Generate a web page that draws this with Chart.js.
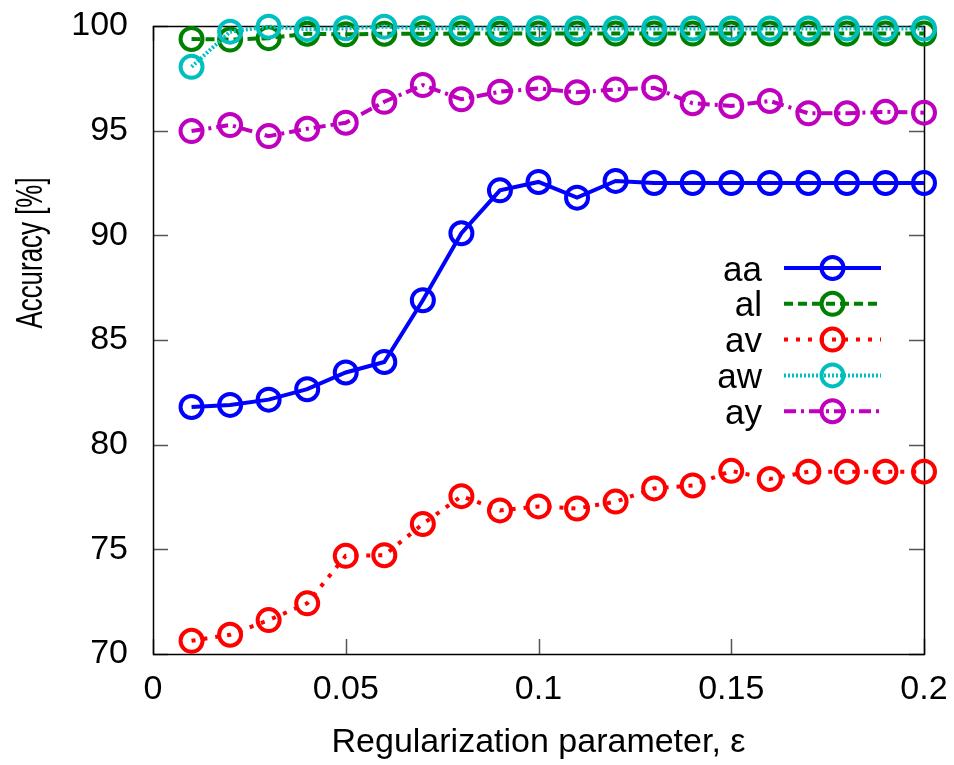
<!DOCTYPE html>
<html>
<head>
<meta charset="utf-8">
<script src="https://cdn.jsdelivr.net/npm/chart.js@4/dist/chart.umd.min.js"></script>
<style>
  html, body { margin: 0; padding: 0; background: #ffffff; }
  #wrap { width: 954px; height: 765px; position: relative; }
</style>
</head>
<body>
<div id="wrap"><canvas id="c" width="954" height="765"></canvas></div>
<script>
// ---- data ----
const epsilon = [0.01, 0.02, 0.03, 0.04, 0.05, 0.06, 0.07, 0.08, 0.09, 0.10,
                 0.11, 0.12, 0.13, 0.14, 0.15, 0.16, 0.17, 0.18, 0.19, 0.20];
const seriesNames = ["aa", "al", "av", "aw", "ay"];
const aa = [81.8, 81.9, 82.15, 82.65, 83.45, 83.95, 86.9, 90.1, 92.15, 92.55,
            91.8, 92.6, 92.5, 92.5, 92.5, 92.5, 92.5, 92.5, 92.5, 92.5];
const al = [99.38, 99.35, 99.42, 99.63, 99.6, 99.63, 99.63, 99.64, 99.64, 99.64,
            99.64, 99.64, 99.64, 99.64, 99.64, 99.64, 99.64, 99.64, 99.64, 99.64];
const av = [70.63, 70.92, 71.62, 72.42, 74.69, 74.72, 76.21, 77.54, 76.86, 77.05,
            76.95, 77.28, 77.91, 78.05, 78.75, 78.36, 78.71, 78.71, 78.71, 78.71];
const aw = [98.05, 99.73, 99.97, 99.85, 99.89, 99.97, 99.89, 99.89, 99.87, 99.89,
            99.88, 99.88, 99.88, 99.88, 99.88, 99.88, 99.88, 99.88, 99.88, 99.88];
const ay = [94.98, 95.27, 94.74, 95.09, 95.38, 96.38, 97.18, 96.5, 96.86, 97.02,
            96.83, 96.97, 97.05, 96.31, 96.18, 96.42, 95.83, 95.83, 95.9, 95.86];
const xTicks = [0, 0.05, 0.1, 0.15, 0.2];
const yTicks = [70, 75, 80, 85, 90, 95, 100];
const xTitle = "Regularization parameter, \u03b5";
const yTitle = "Accuracy [%]";

// ---- styles ----
const FONT = "'Liberation Sans', Arial, Helvetica, sans-serif";
const colors = ["#0000ff", "#008000", "#ff0000", "#00bfbf", "#bf00bf"];
const dashes = [[], [9, 5], [4, 8], [2, 2], [12, 5, 3, 5]];
const values = [aa, al, av, aw, ay];

const datasets = seriesNames.map((name, i) => ({
  label: name,
  data: epsilon.map((x, k) => ({ x: x, y: values[i][k] })),
  borderColor: colors[i],
  backgroundColor: "rgba(0,0,0,0)",
  borderWidth: 4,
  borderDash: dashes[i],
  pointStyle: "circle",
  pointRadius: 11,
  pointBorderWidth: 4,
  pointBorderColor: colors[i],
  pointBackgroundColor: "rgba(0,0,0,0)",
  tension: 0,
  clip: false,
  order: seriesNames.length - i
}));

// frame + inward ticks (drawn from the scales)
const framePlugin = {
  id: "frame",
  beforeDatasetsDraw(chart) {
    const ctx = chart.ctx, a = chart.chartArea;
    const xs = chart.scales.x, ys = chart.scales.y;
    ctx.save();
    ctx.strokeStyle = "#555555";
    ctx.lineWidth = 1.5;
    ctx.beginPath();
    yTicks.forEach(v => {
      const py = Math.round(ys.getPixelForValue(v)) + 0.5;
      ctx.moveTo(a.left, py); ctx.lineTo(a.left + 15, py);
      ctx.moveTo(a.right, py); ctx.lineTo(a.right - 15, py);
    });
    xTicks.forEach(v => {
      const px = Math.round(xs.getPixelForValue(v)) + 0.5;
      ctx.moveTo(px, a.bottom); ctx.lineTo(px, a.bottom - 15);
      ctx.moveTo(px, a.top); ctx.lineTo(px, a.top + 15);
    });
    ctx.stroke();
    ctx.strokeStyle = "#000000";
    ctx.lineWidth = 1.5;
    ctx.strokeRect(a.left + 0.5, a.top + 0.5, a.right - a.left, a.bottom - a.top);
    ctx.restore();
  },
  afterDraw(chart) {
    // y-axis title (condensed like the reference)
    const ctx = chart.ctx, a = chart.chartArea;
    ctx.save();
    ctx.fillStyle = "#000000";
    ctx.font = "36px " + FONT;
    ctx.textAlign = "center";
    ctx.textBaseline = "middle";
    ctx.translate(a.left - 121, a.top + 227);
    ctx.rotate(-Math.PI / 2);
    ctx.scale(0.72, 1);
    ctx.fillText(yTitle, 0, 0);
    ctx.restore();
  }
};

// legend inside the plot, gnuplot style
const legendPlugin = {
  id: "gpLegend",
  afterDatasetsDraw(chart) {
    const ctx = chart.ctx, a = chart.chartArea;
    const textRight = a.right - 162;
    const lineStart = a.right - 140;
    const lineEnd = a.right - 43;
    const mid = (lineStart + lineEnd) / 2;
    ctx.save();
    chart.data.datasets.forEach((ds, i) => {
      const y = a.top + 242 + i * 35.8;
      ctx.fillStyle = "#000000";
      ctx.font = "35px " + FONT;
      ctx.textAlign = "right";
      ctx.textBaseline = "middle";
      ctx.fillText(ds.label, textRight, y + 3);
      ctx.strokeStyle = ds.borderColor;
      ctx.lineWidth = 4;
      ctx.setLineDash(ds.borderDash);
      ctx.beginPath();
      ctx.moveTo(lineStart, y); ctx.lineTo(lineEnd, y);
      ctx.stroke();
      ctx.setLineDash([]);
      ctx.beginPath();
      ctx.arc(mid, y, 11, 0, Math.PI * 2);
      ctx.stroke();
    });
    ctx.restore();
  }
};

new Chart(document.getElementById("c"), {
  type: "line",
  data: { datasets: datasets },
  options: {
    responsive: false,
    animation: false,
    events: [],
    layout: { padding: { top: 26, right: 30, left: 0, bottom: 0 } },
    plugins: { legend: { display: false }, tooltip: { enabled: false } },
    scales: {
      x: {
        type: "linear",
        min: 0, max: 0.2,
        afterBuildTicks(scale) { scale.ticks = xTicks.map(v => ({ value: v })); },
        afterFit(scale) {
          scale.height = 111;
          scale.paddingLeft = 0; scale.paddingRight = 0;
        },
        grid: { display: false, drawTicks: false },
        border: { display: false },
        ticks: {
          color: "#000000",
          padding: 15,
          maxRotation: 0,
          font: { family: FONT, size: 34 },
          callback: v => String(Number(v.toFixed(2)))
        },
        title: {
          display: true, text: xTitle, color: "#000000",
          font: { family: FONT, size: 34 },
          padding: { top: 0, bottom: 2 }
        }
      },
      y: {
        type: "linear",
        min: 70, max: 100,
        afterBuildTicks(scale) { scale.ticks = yTicks.map(v => ({ value: v })); },
        afterFit(scale) {
          scale.width = 153;
          scale.paddingTop = 0; scale.paddingBottom = 0;
        },
        grid: { display: false, drawTicks: false },
        border: { display: false },
        ticks: {
          color: "#000000",
          padding: 25,
          font: { family: FONT, size: 34 }
        }
      }
    }
  },
  plugins: [framePlugin, legendPlugin]
});
</script>
</body>
</html>
